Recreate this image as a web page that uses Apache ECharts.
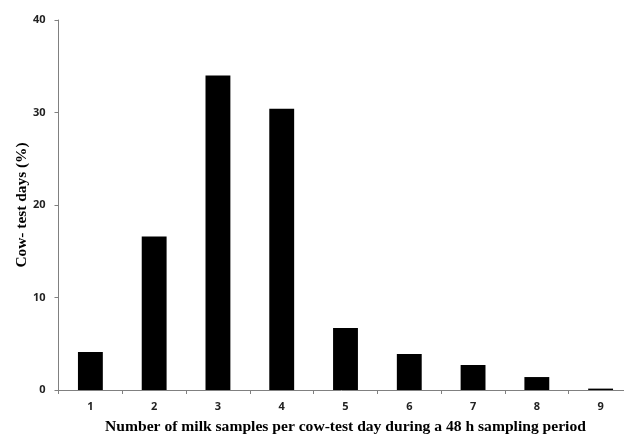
<!DOCTYPE html>
<html><head><meta charset="utf-8">
<script src="https://cdn.jsdelivr.net/npm/echarts@6/dist/echarts.min.js"></script>
<style>html,body{margin:0;padding:0;background:#fff}#c{width:624px;height:436px}</style>
</head><body><div id="c"></div>
<script>
var categories = ['1','2','3','4','5','6','7','8','9'];
var values = [4.1, 16.6, 34.0, 30.4, 6.7, 3.9, 2.7, 1.4, 0.15];
var yTicks = [0, 10, 20, 30, 40];
var xTitle = 'Number of milk samples per cow-test day during a 48 h sampling period';
var yTitle = 'Cow- test days (%)';

var chart = echarts.init(document.getElementById('c'));
chart.setOption({
  animation: false,
  backgroundColor: '#fff',
  grid: {left: 58.5, right: -8.5, top: 20, bottom: 46, outerBoundsMode: 'none', containLabel: false},
  xAxis: {
    type: 'category', data: categories, boundaryGap: true,
    axisLine: {lineStyle: {color: '#808080', width: 1}},
    axisTick: {show: true, alignWithLabel: false, length: 4, lineStyle: {color: '#808080'}},
    axisLabel: {color: '#222', fontFamily: 'Open Sans', fontWeight: 'bold', fontSize: 11, margin: 11},
    name: xTitle, nameLocation: 'middle', nameGap: 29,
    nameTextStyle: {color: '#000', fontFamily: 'Liberation Serif', fontWeight: 'bold', fontSize: 15.6}
  },
  yAxis: {
    type: 'value', min: yTicks[0], max: yTicks[yTicks.length-1], interval: 10,
    axisLine: {show: true, lineStyle: {color: '#808080', width: 1}},
    axisTick: {show: true, length: 4, lineStyle: {color: '#808080'}},
    splitLine: {show: false},
    axisLabel: {color: '#222', fontFamily: 'Open Sans', fontWeight: 'bold', fontSize: 11, margin: 13},
    name: yTitle, nameLocation: 'middle', nameGap: 29, nameRotate: 90, nameMoveOverlap: false,
    nameTextStyle: {color: '#000', fontFamily: 'Liberation Serif', fontWeight: 'bold', fontSize: 15.4}
  },
  series: [{
    type: 'bar', data: values, barWidth: '39%',
    itemStyle: {color: '#000'}
  }]
});
</script></body></html>
